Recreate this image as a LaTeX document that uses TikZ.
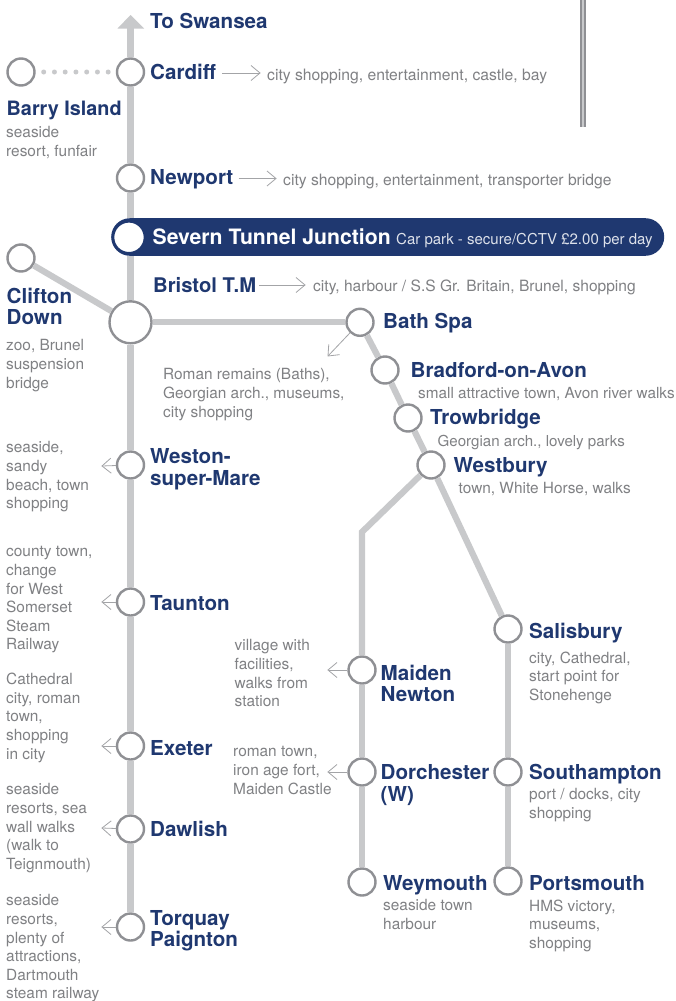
\documentclass[tikz,border=0pt]{standalone}
\usepackage{fontspec}
\setmainfont{TeX Gyre Heros}
\usetikzlibrary{arrows.meta}
\definecolor{navy}{HTML}{1F3870}
\definecolor{rail}{HTML}{C8C9CB}
\definecolor{ring}{HTML}{8F9094}
\definecolor{note}{HTML}{808184}
\definecolor{barb}{HTML}{A3A4A7}
\pgfdeclarearrow{
  name=Chevron,
  setup code={\pgfarrowssettipend{0pt}\pgfarrowssetlineend{-0.5pt}\pgfarrowssetbackend{-9pt}\pgfarrowssetvisualbackend{-9pt}},
  drawing code={\pgfsetdash{}{0pt}\pgfsetlinewidth{0.8pt}\pgfsetmiterjoin
    \pgfpathmoveto{\pgfpoint{-9pt}{7.5pt}}\pgfpathlineto{\pgfpoint{0pt}{0pt}}\pgfpathlineto{\pgfpoint{-9pt}{-7.5pt}}\pgfusepathqstroke}
}
\tikzset{
  x=1pt,y=-1pt,
  stn/.style={circle,draw=ring,line width=2.4pt,fill=white,minimum size=27pt,inner sep=0pt},
  railline/.style={draw=rail,line width=6.2pt},
  pointer/.style={draw=barb,line width=0.8pt,-{Chevron}},
  stnname/.style={anchor=base west,inner sep=0pt,text=navy,font=\fontsize{20.6}{21.5}\selectfont\bfseries,align=left},
  namesize/.style={font=\fontsize{#1}{21.5}\selectfont\bfseries},
  notetext/.style={anchor=north west,inner sep=0pt,yshift=-3.5pt,text=note,font=\fontsize{15.4}{18.6}\selectfont,align=left},
  notesize/.style={font=\fontsize{#1}{18.6}\selectfont},
}
\begin{document}
\begin{tikzpicture}
\useasboundingbox (0,0) rectangle (676,1001);
\fill[white] (0,0) rectangle (676,1001);
% side bar
\fill[ring] (579.5,0) rectangle (585.5,127);
\fill[rail] (581.5,0) rectangle (583.5,127);
% pill
\node[fill=navy,draw=none,rounded corners=18.8pt,minimum width=553pt,minimum height=37.6pt,inner sep=0pt,anchor=west] (pill) at (111,237) {};
% stations
\coordinate (top) at (130.5,28);
\node[stn] (cardiff) at (130.5,72) {};
\node[stn] (barry) at (21,72) {};
\node[stn] (newport) at (130.5,178) {};
\node[circle,draw=navy,line width=2.6pt,fill=white,minimum size=32pt,inner sep=0pt] (severn) at (129,237.3) {};
\node[stn] (clifton) at (21,258) {};
\node[stn,minimum size=42pt] (bristol) at (130.5,322.3) {};
\node[stn] (bath) at (360,322.3) {};
\node[stn] (bradford) at (385,370) {};
\node[stn] (trowbridge) at (408,418) {};
\node[stn] (westbury) at (431,465) {};
\node[stn] (salisbury) at (508,629) {};
\node[stn] (maiden) at (362,670) {};
\node[stn] (dorchester) at (362,772) {};
\node[stn] (weymouth) at (362,882) {};
\node[stn] (southampton) at (508,772) {};
\node[stn] (portsmouth) at (508,881) {};
\node[stn] (weston) at (130.5,465) {};
\node[stn] (taunton) at (130.5,602) {};
\node[stn] (exeter) at (130.5,746) {};
\node[stn] (dawlish) at (130.5,829) {};
\node[stn] (torquay) at (130.5,927) {};
\coordinate (bend) at (362,532);
% rail lines
\fill[rail] (130.5,15) -- (144,28.5) -- (117.5,28.5) -- cycle;
\draw[railline] (cardiff) -- (top);
\draw[railline] (cardiff) -- (newport);
\draw[railline] (newport) -- (pill.north -| newport);
\draw[railline] (bristol) -- (pill.south -| bristol);
\draw[railline] (clifton) -- (bristol);
\draw[railline] (bristol) -- (bath);
\draw[railline] (bath) -- (bradford);
\draw[railline] (bradford) -- (trowbridge);
\draw[railline] (trowbridge) -- (westbury);
\draw[railline] (westbury) -- (salisbury);
\draw[railline] (salisbury) -- (southampton);
\draw[railline] (southampton) -- (portsmouth);
\draw[railline,line join=miter] (westbury) -- (bend) -- (maiden);
\draw[railline] (maiden) -- (dorchester);
\draw[railline] (dorchester) -- (weymouth);
\draw[railline] (bristol) -- (weston);
\draw[railline] (weston) -- (taunton);
\draw[railline] (taunton) -- (exeter);
\draw[railline] (exeter) -- (dawlish);
\draw[railline] (dawlish) -- (torquay);
\draw[draw=rail,line width=5pt,line cap=round,dash pattern=on 0pt off 10.75pt,dash phase=2.75pt] (barry) -- (cardiff);
\node[stnname] (swansea) at (150,28) {To Swansea};
\node[stnname] (cardiffL) at (150,79) {Cardiff};
\node[stnname,namesize=19.8] (barryL) at (6.5,115) {Barry Island};
\node[stnname] (newportL) at (150,184) {Newport};
\node[stnname,text=white,namesize=21.2] (severnL) at (152.5,244) {Severn Tunnel Junction};
\node[anchor=base west,inner sep=0pt,text=white!85!navy,font=\fontsize{15}{17}\selectfont] (severnD) at (396,244) {Car park - secure/CCTV £2.00 per day};
\node[stnname,namesize=20.2] (bristolL) at (153,292) {Bristol T.M};
\node[stnname] (cliftonL) at (6.5,324.5) {Clifton\\Down};
\node[stnname] (bathL) at (383,328) {Bath Spa};
\node[stnname] (bradfordL) at (410.5,377) {Bradford-on-Avon};
\node[stnname] (trowbridgeL) at (430,424) {Trowbridge};
\node[stnname] (westburyL) at (453.5,472) {Westbury};
\node[stnname] (westonL) at (150,485) {Weston-\\super-Mare};
\node[stnname] (tauntonL) at (150,610.5) {Taunton};
\node[stnname] (salisburyL) at (529,638) {Salisbury};
\node[stnname] (maidenL) at (380.5,701.5) {Maiden\\Newton};
\node[stnname] (exeterL) at (150,755) {Exeter};
\node[stnname] (dorchesterL) at (380.5,801) {Dorchester\\(W)};
\node[stnname] (southamptonL) at (529,779) {Southampton};
\node[stnname] (dawlishL) at (150,836) {Dawlish};
\node[stnname] (weymouthL) at (383,890) {Weymouth};
\node[stnname] (portsmouthL) at (529,890) {Portsmouth};
\node[stnname] (torquayL) at (150,946.5) {Torquay\\Paignton};
% descriptions
\node[notetext,notesize=15.7] (d1) at (267,65) {city shopping, entertainment, castle, bay};
\node[notetext] (d2) at (6,123) {seaside\\resort, funfair};
\node[notetext,notesize=15.65] (d3) at (283,170) {city shopping, entertainment, transporter bridge};
\node[notetext,notesize=15.55] (d4) at (313,276) {city, harbour / S.S Gr. Britain, Brunel, shopping};
\node[notetext] (d5) at (6,336) {zoo, Brunel\\suspension\\bridge};
\node[notetext] (d6) at (163,365) {Roman remains (Baths),\\Georgian arch., museums,\\city shopping};
\node[notetext,notesize=15.3] (d7) at (418,384) {small attractive town, Avon river walks};
\node[notetext,notesize=15.1] (d8) at (437.5,432) {Georgian arch., lovely parks};
\node[notetext] (d9) at (458.5,479) {town, White Horse, walks};
\node[notetext] (d10) at (6,438) {seaside,\\sandy\\beach, town\\shopping};
\node[notetext] (d11) at (6,543) {county town,\\change\\for West\\Somerset\\Steam\\Railway};
\node[notetext] (d12) at (529,648) {city, Cathedral,\\start point for\\Stonehenge};
\node[notetext] (d13) at (234.5,636) {village with\\facilities,\\walks from\\station};
\node[notetext] (d14) at (6,669.5) {Cathedral\\city, roman\\town,\\shopping\\in city};
\node[notetext] (d15) at (233,743) {roman town,\\iron age fort,\\Maiden Castle};
\node[notetext] (d16) at (529,785) {port / docks, city\\shopping};
\node[notetext] (d17) at (6,780) {seaside\\resorts, sea\\wall walks\\(walk to\\Teignmouth)};
\node[notetext] (d18) at (383,896) {seaside town\\harbour};
\node[notetext] (d19) at (529,896) {HMS victory,\\museums,\\shopping};
\node[notetext] (d20) at (6,891) {seaside\\resorts,\\plenty of\\attractions,\\Dartmouth\\steam railway};
% pointers
\coordinate (p1a) at (222,73); \coordinate (p1b) at (260,73);
\coordinate (p3a) at (238.5,178.5); \coordinate (p3b) at (276,178.5);
\coordinate (p4a) at (259,285); \coordinate (p4b) at (305,285);
\coordinate (p6) at (328,356);
\coordinate (pw) at (102,466); \coordinate (pt) at (102,602); \coordinate (pe) at (102,746);
\coordinate (pd) at (102,828); \coordinate (pq) at (102,927);
\coordinate (pm) at (328,670); \coordinate (pc) at (328,772);
\draw[pointer] (p1a) -- (p1b);
\draw[pointer] (p3a) -- (p3b);
\draw[pointer] (p4a) -- (p4b);
\draw[pointer] (bath) -- (p6);
\draw[pointer] (weston) -- (pw);
\draw[pointer] (taunton) -- (pt);
\draw[pointer] (exeter) -- (pe);
\draw[pointer] (dawlish) -- (pd);
\draw[pointer] (torquay) -- (pq);
\draw[pointer] (maiden) -- (pm);
\draw[pointer] (dorchester) -- (pc);
\end{tikzpicture}
\end{document}
